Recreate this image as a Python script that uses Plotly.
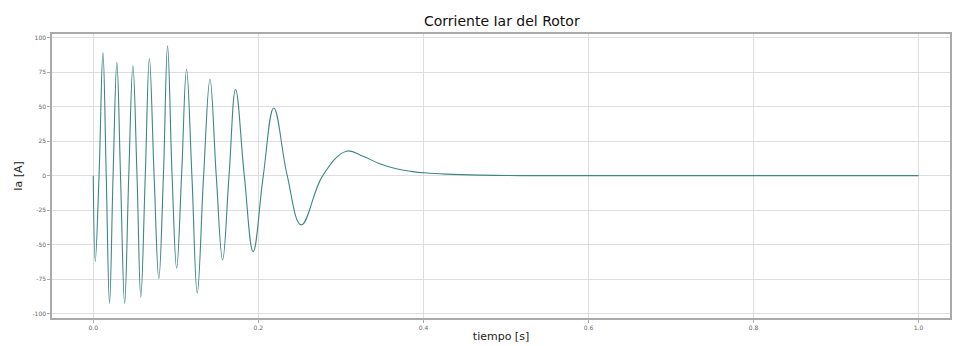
import plotly.graph_objects as go

# time [s] and current [A] (extrema, zero crossings, tail samples)
t = [0.0, 0.0024, 0.007, 0.0117, 0.0157, 0.0197, 0.024, 0.0286, 0.033, 0.038,
     0.043, 0.048, 0.053, 0.0576, 0.063, 0.068, 0.0737, 0.0794, 0.085, 0.090,
     0.0955, 0.101, 0.107, 0.113, 0.1195, 0.126, 0.1337, 0.1414, 0.149, 0.1567,
     0.1645, 0.1724, 0.183, 0.1937, 0.206, 0.2187, 0.235, 0.252, 0.278, 0.3066,
     0.326, 0.347, 0.367, 0.385, 0.404, 0.428, 0.468, 0.52, 0.75, 1.0]
ia = [0.0, -62, 0, 89, 0, -92.5, 0, 82, 0, -92.5,
      0, 79.5, 0, -87.7, 0, 84.8, 0, -74.4, 0, 94,
      0, -67, 0, 77, 0, -85, 0, 69.8, 0, -61,
      0, 62.5, 0, -55, 0, 49, 0, -35.6, 0, 17.7,
      14.2, 8.6, 5.0, 3.1, 1.9, 1.1, 0.4, 0.0, 0.0, 0.0]

xticks = [0.0, 0.2, 0.4, 0.6, 0.8, 1.0]
xticklabels = ["0.0", "0.2", "0.4", "0.6", "0.8", "1.0"]
yticks = [100, 75, 50, 25, 0, -25, -50, -75, -100]
yticklabels = ["100", "75", "50", "25", "0", "-25", "-50", "-75", "-100"]

fig = go.Figure()
fig.add_trace(go.Scatter(x=t, y=ia, mode="lines",
                         line=dict(color="#3f8784", width=1.1, shape="spline", smoothing=1.15),
                         showlegend=False))

font = "DejaVu Sans, sans-serif"
fig.update_layout(
    width=954, height=346,
    margin=dict(l=52, r=2, t=34, b=28),
    paper_bgcolor="white", plot_bgcolor="white",
    font=dict(family=font, color="#222"),
    title=dict(text="Corriente Iar del Rotor", x=0.526, xanchor="center",
               y=0.94, yanchor="middle", font=dict(size=14, family=font, color="#111")),
)
fig.update_xaxes(range=[-0.05, 1.038], tickvals=xticks, ticktext=xticklabels,
                 tickfont=dict(size=6, color="#666"), ticks="outside", ticklen=3,
                 tickcolor="#aaa", showgrid=True, gridcolor="#dedede", gridwidth=1,
                 showline=True, linecolor="#aaa", linewidth=1.5, mirror=True,
                 zeroline=False,
                 title=dict(text="tiempo [s]", font=dict(size=11, color="#222"), standoff=2))
fig.update_yaxes(range=[-103, 102.5], tickvals=yticks, ticktext=yticklabels,
                 tickfont=dict(size=6, color="#666"), ticks="outside", ticklen=3,
                 tickcolor="#aaa", showgrid=True, gridcolor="#dedede", gridwidth=1,
                 showline=True, linecolor="#aaa", linewidth=1.5, mirror=True,
                 zeroline=False,
                 title=dict(text="Ia [A]", font=dict(size=11, color="#222"), standoff=8))

fig.write_html("out.html")
